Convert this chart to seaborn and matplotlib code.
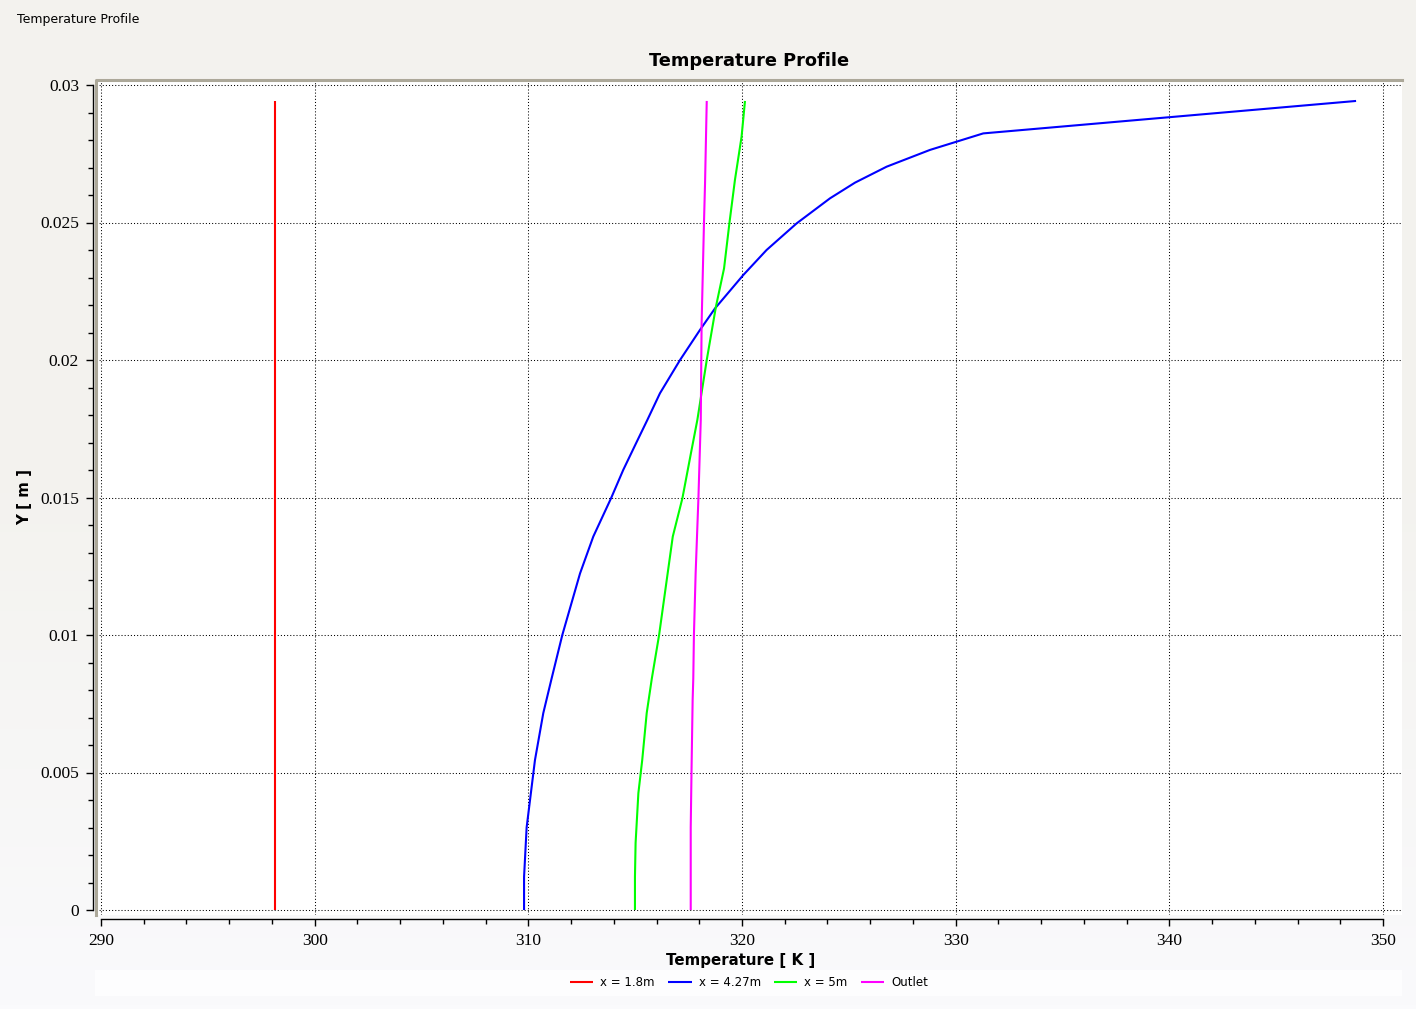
import numpy as np
import pandas as pd
import seaborn as sns
import matplotlib.pyplot as plt
from matplotlib.ticker import FixedLocator, MultipleLocator

# values
series_names = ['x = 1.8m', 'x = 4.27m', 'x = 5m', 'Outlet']
series_colors = ['#ff0000', '#0000ff', '#00ff00', '#ff00ff']

red_temp = [298.14, 298.14]
red_y = [0.0, 0.02942]

blue_temp = [309.80, 309.80, 309.92, 310.31, 310.70, 311.09, 311.59, 312.42, 313.04,
             313.87, 314.44, 315.04, 315.57, 316.16, 317.10, 318.03, 318.74, 320.06,
             321.15, 322.56, 324.12, 325.29, 326.77, 328.80, 331.29, 348.74]
blue_y = [0.0, 0.0012, 0.0030, 0.00545, 0.00716, 0.00842, 0.0100, 0.01224, 0.01358,
          0.01497, 0.0160, 0.01697, 0.01782, 0.01879, 0.0200, 0.02109, 0.02188, 0.02309,
          0.0240, 0.02497, 0.02588, 0.02645, 0.02703, 0.02764, 0.02824, 0.02942]

green_temp = [314.99, 314.99, 315.02, 315.15, 315.33, 315.54, 315.78, 316.12, 316.52,
              316.76, 317.21, 317.61, 317.91, 318.35, 318.78, 319.16, 319.41, 319.67,
              319.98, 320.14]
green_y = [0.0, 0.0012, 0.00244, 0.00425, 0.00545, 0.00716, 0.00842, 0.0100, 0.01224,
           0.01358, 0.01497, 0.01661, 0.01782, 0.0200, 0.02194, 0.02333, 0.02497, 0.02655,
           0.02812, 0.02942]

outlet_temp = [317.60, 317.60, 317.64, 317.69, 317.72, 317.75, 317.83, 317.96, 318.07,
               318.11, 318.22, 318.27, 318.35]
outlet_y = [0.0, 0.0030, 0.0052, 0.00764, 0.00842, 0.0100, 0.01224, 0.01497, 0.01782,
            0.02133, 0.02497, 0.02642, 0.02942]

x_ticks = [290, 300, 310, 320, 330, 340, 350]
x_tick_labels = ['290', '300', '310', '320', '330', '340', '350']
y_ticks = [0.0, 0.005, 0.01, 0.015, 0.02, 0.025, 0.03]
y_tick_labels = ['0', '0.005', '0.01', '0.015', '0.02', '0.025', '0.03']

frames = []
for name, t, y in zip(series_names,
                      [red_temp, blue_temp, green_temp, outlet_temp],
                      [red_y, blue_y, green_y, outlet_y]):
    frames.append(pd.DataFrame({'Temperature': t, 'Y': y, 'series': name}))
plot_data = pd.concat(frames, ignore_index=True)

sns.set_style('white')
plt.rcParams['font.family'] = ['DejaVu Sans']
plt.rcParams['lines.solid_capstyle'] = 'butt'
for key in ['text.color', 'axes.labelcolor', 'xtick.color', 'ytick.color']:
    plt.rcParams[key] = 'black'

W, H = 1416, 1009
fig = plt.figure(figsize=(W / 100, H / 100), dpi=100)

# background gradient
bg = fig.add_axes([0, 0, 1, 1], zorder=-10)
top_col = np.array([243, 242, 238]) / 255
bot_col = np.array([250, 250, 252]) / 255
ramp = np.clip((np.linspace(0, 1, 256) - 0.45) / 0.55, 0, 1)[:, None]
grad = top_col * (1 - ramp) + bot_col * ramp
bg.imshow(grad[:, None, :], aspect='auto', extent=[0, 1, 0, 1])
bg.add_patch(plt.Rectangle((95 / W, 1 - 996 / H), 1307 / W, 26 / H, color='#fdfdfe', lw=0))
bg.set_xlim(0, 1)
bg.set_ylim(0, 1)
bg.axis('off')

ax = fig.add_axes([96 / W, 1 - 915 / H, 1306 / W, 835 / H])
ax.set_facecolor('white')

sns.lineplot(data=plot_data, x='Temperature', y='Y', hue='series',
             palette=dict(zip(series_names, series_colors)),
             sort=False, estimator=None, linewidth=1.5, ax=ax)

ax.set_xlim(290 - 5 / 21.367, 350 + 19 / 21.367)
ax.set_ylim(-5 / 27500, 0.03 + 5 / 27500)

ax.xaxis.set_major_locator(FixedLocator(x_ticks))
ax.set_xticklabels(x_tick_labels)
ax.xaxis.set_minor_locator(MultipleLocator(2))
ax.yaxis.set_major_locator(FixedLocator(y_ticks))
ax.set_yticklabels(y_tick_labels)
ax.yaxis.set_minor_locator(MultipleLocator(0.001))

ax.tick_params(which='major', direction='out', length=5, width=1, color='black', pad=5,
               bottom=True, left=True, labelsize=12.5, labelcolor='black',
               labelfontfamily='Liberation Serif')
ax.tick_params(which='minor', direction='out', length=3.5, width=1, color='black',
               bottom=True, left=True)

ax.grid(True, which='major', color='black', linestyle=(0, (1, 2)), linewidth=0.75)

for side in ['top', 'right']:
    ax.spines[side].set_visible(False)
ax.spines['left'].set_position(('outward', 2.2))
ax.spines['left'].set_bounds(0, 0.03)
ax.spines['bottom'].set_position(('outward', 2.9))
ax.spines['bottom'].set_bounds(290, 350)
for side in ['left', 'bottom']:
    ax.spines[side].set_color('black')
    ax.spines[side].set_linewidth(1)

# grey frame on the top and left of the plot area
ax.plot([0, 0, 1], [0, 1, 1], transform=ax.transAxes, color='#aca899', lw=2.2,
        clip_on=False, solid_capstyle='projecting')

ax.set_xlabel('')
ax.set_ylabel('')
fig.text(741 / W, 1 - 960 / H, 'Temperature [ K ]', ha='center', va='center',
         fontsize=10.8, fontweight='bold')
fig.text(25 / W, 1 - 497 / H, 'Y [ m ]', ha='center', va='center', rotation=90,
         fontsize=10.8, fontweight='bold')
fig.text(749 / W, 1 - 61 / H, 'Temperature Profile', ha='center', va='center',
         fontsize=12.8, fontweight='bold')
fig.text(17 / W, 1 - 19 / H, 'Temperature Profile', ha='left', va='center',
         fontsize=9)

handles, labels = ax.get_legend_handles_labels()
ax.legend(handles, labels, loc='center', bbox_to_anchor=(749 / W, 1 - 983 / H),
          bbox_transform=fig.transFigure, ncol=4, frameon=False, fontsize=8.5,
          handlelength=2.0, handletextpad=0.6, columnspacing=1.1)

fig.savefig('out.png', dpi=100)
plt.close(fig)
